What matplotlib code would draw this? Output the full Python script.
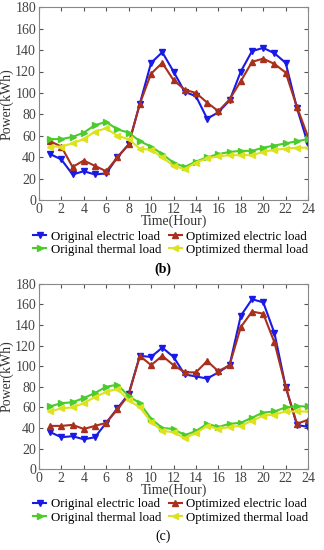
import matplotlib.pyplot as plt

plt.rcParams['font.family'] = ['Liberation Serif', 'DejaVu Serif']

hours = list(range(1, 25))

# panel (b)
b_orig_elec = [43, 38, 24, 27, 24, 25, 40, 52, 90, 128, 138, 120, 101, 97, 76, 82, 93, 120, 139, 142, 137, 128, 86, 52]
b_opt_elec = [55, 50, 31, 37, 32, 27, 40, 52, 90, 118, 128, 112, 103, 100, 91, 83, 94, 111, 129, 132, 127, 119, 87, 59]
b_orig_therm = [57, 57, 59, 63, 70, 73, 66, 63, 55, 50, 43, 35, 31, 36, 40, 43, 45, 46, 46, 49, 51, 53, 55, 57]
b_opt_therm = [50, 50, 53, 57, 64, 67, 60, 57, 48, 47, 40, 32, 29, 35, 39, 41, 42, 42, 42, 45, 47, 48, 49, 49]

# panel (c)
c_orig_elec = [36, 31, 32, 29, 31, 45, 59, 73, 110, 109, 118, 109, 92, 90, 88, 94, 101, 149, 165, 162, 132, 80, 43, 41]
c_opt_elec = [42, 42, 43, 39, 42, 45, 58, 72, 110, 101, 110, 101, 94, 94, 105, 95, 101, 138, 153, 151, 123, 80, 44, 48]
c_orig_therm = [61, 64, 65, 69, 74, 80, 82, 71, 64, 49, 40, 39, 33, 37, 44, 41, 44, 45, 50, 55, 56, 60, 61, 61]
c_opt_therm = [56, 59, 60, 64, 70, 75, 78, 67, 60, 46, 37, 36, 30, 35, 42, 39, 41, 42, 47, 52, 53, 56, 56, 56]

labels = ['Original electric load', 'Optimized electric load',
          'Original thermal load', 'Optimized thermal load']
colors = ['#1a1ae6', '#a8301c', '#4ccc2c', '#dde21e']
markers = ['v', '^', '>', '<']


def draw_panel(ax, series, tag, bold):
    lines = []
    for ys, lab, c, m in zip(series, labels, colors, markers):
        ln, = ax.plot(hours, ys, color=c, marker=m, markersize=5, linewidth=1.5, label=lab)
        lines.append(ln)
    ax.set_xlim(0, 24)
    ax.set_ylim(0, 180)
    ax.set_xticks(range(0, 25, 2))
    ax.set_yticks(range(0, 181, 20))
    ax.tick_params(direction='in', top=True, right=True, labelsize=10, length=3,
                   colors='#555555', labelcolor='#444444', pad=2)
    for s in ax.spines.values():
        s.set_color('#888888')
        s.set_linewidth(0.8)
    ax.set_xlabel('Time(Hour)', fontsize=10, labelpad=-1, color='#333333')
    ax.set_ylabel('Power(kWh)', fontsize=10, labelpad=1, color='#333333')
    # legend fills column-wise, so reorder to get electric on row 1
    order = [0, 2, 1, 3]
    ax.legend([lines[i] for i in order], [labels[i] for i in order],
              loc='upper center', bbox_to_anchor=(0.49, -0.13), ncol=2, frameon=False,
              fontsize=9.3, handlelength=1.0, handletextpad=0.35, columnspacing=0.6,
              labelspacing=0.1, borderaxespad=0)
    ax.text(0.46, -0.36, tag, transform=ax.transAxes, ha='center', va='center',
            fontsize=10, fontweight='bold' if bold else 'normal')


fig = plt.figure(figsize=(3.24, 5.5), dpi=100)
ax1 = fig.add_axes([0.12, 0.636, 0.831, 0.351])
ax2 = fig.add_axes([0.12, 0.147, 0.831, 0.337])
draw_panel(ax1, [b_orig_elec, b_opt_elec, b_orig_therm, b_opt_therm], '(b)', True)
draw_panel(ax2, [c_orig_elec, c_opt_elec, c_orig_therm, c_opt_therm], '(c)', False)

fig.savefig('out.png', dpi=100)
